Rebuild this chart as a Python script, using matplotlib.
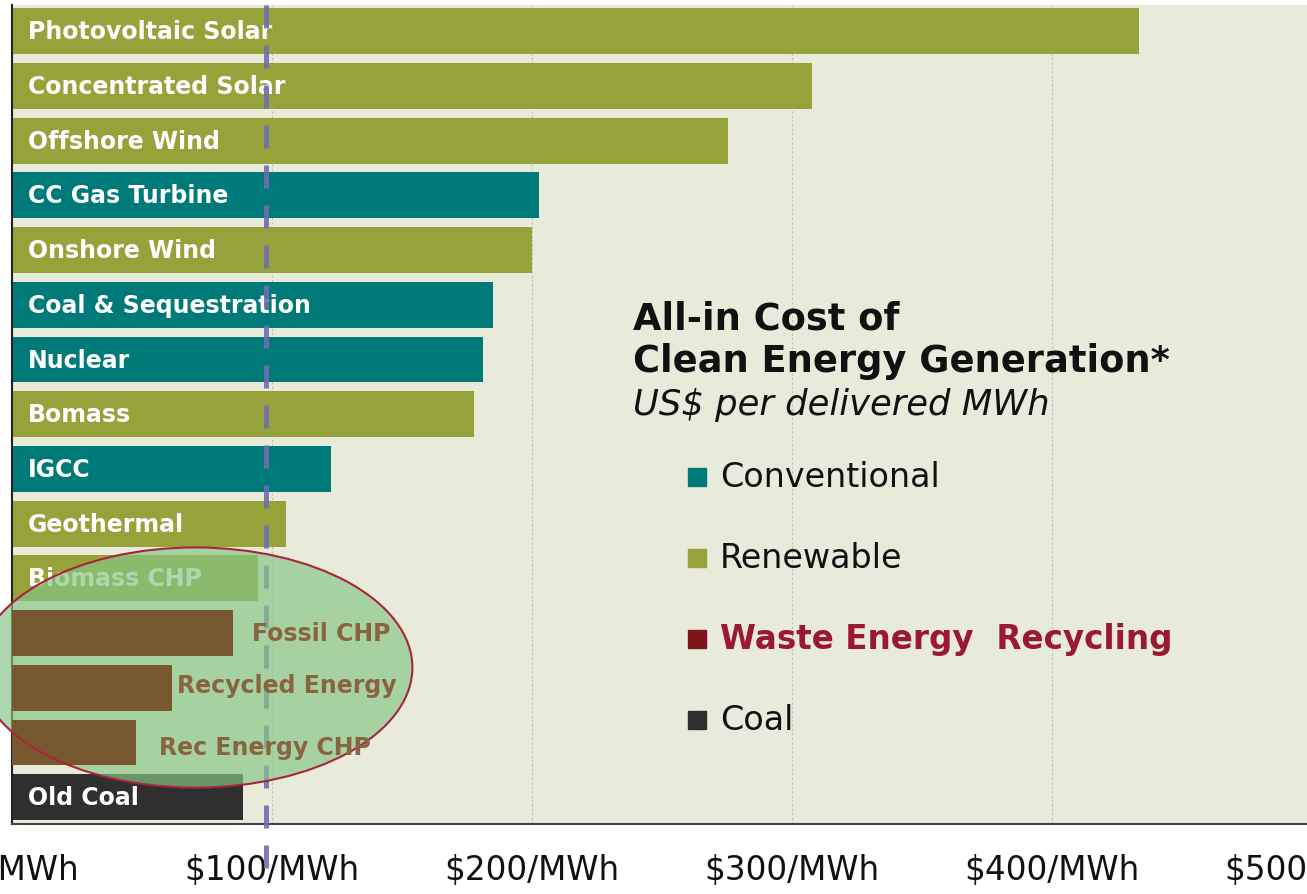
import matplotlib
matplotlib.use('Agg')
from matplotlib import pyplot as plt
from matplotlib.patches import Ellipse

# data, top to bottom
labels = ['Photovoltaic Solar', 'Concentrated Solar', 'Offshore Wind', 'CC Gas Turbine',
          'Onshore Wind', 'Coal & Sequestration', 'Nuclear', 'Bomass', 'IGCC',
          'Geothermal', 'Biomass CHP', 'Fossil CHP', 'Recycled Energy',
          'Rec Energy CHP', 'Old Coal']
costs = [433.5, 307.5, 275.5, 202.5, 200, 185, 181, 177.5, 122.5, 105.5,
         94.5, 85, 61.5, 47.5, 89]
kinds = ['ren', 'ren', 'ren', 'conv', 'ren', 'conv', 'conv', 'ren', 'conv', 'ren',
         'ren', 'waste', 'waste', 'waste', 'coal']
ticks = [0, 100, 200, 300, 400, 500]
tick_labels = ['$0/MWh', '$100/MWh', '$200/MWh', '$300/MWh', '$400/MWh', '$500/MWh']
benchmark = 97.7

legend_names = ['Conventional', 'Renewable', 'Waste Energy  Recycling', 'Coal']
legend_kinds = ['conv', 'ren', 'waste', 'coal']

colors = {'conv': '#007A78', 'ren': '#97A23B', 'waste': '#77582E', 'coal': '#2F2F2F'}
legend_colors = {'conv': '#007A78', 'ren': '#97A23B', 'waste': '#7E1518', 'coal': '#2F2F2F'}

W, H = 1307, 895
fig = plt.figure(figsize=(W / 100, H / 100), dpi=100)
ax = fig.add_axes([12 / W, 70 / H, 1300 / W, 819 / H])
ax.set_facecolor('#E9EBDA')

for i, (lab, c, k) in enumerate(zip(labels, costs, kinds)):
    z = 5 if k == 'waste' else 2
    ax.barh(i, c, height=0.84, color=colors[k], zorder=z)

ax.set_xlim(0, 500)
ax.set_ylim(len(labels) - 0.51, -0.48)
ax.set_yticks([])
ax.set_xticks(ticks)
ax.set_xticklabels(tick_labels)
ax.tick_params(axis='x', length=0, pad=21, labelsize=23.5, labelcolor='#111111')
ax.xaxis.grid(True, linestyle=(0, (2, 2)), color='#BDBDBD', lw=0.8)
ax.set_axisbelow(True)
for s in ['top', 'right']:
    ax.spines[s].set_visible(False)
ax.spines['left'].set_color('#222222')
ax.spines['left'].set_linewidth(1.5)
ax.spines['bottom'].set_color('#444444')
ax.spines['bottom'].set_linewidth(1.5)

# labels inside / beside bars
waste_offsets = {'Fossil CHP': (14, 0), 'Recycled Energy': (3.5, 2), 'Rec Energy CHP': (17, -3.5)}
for i, (lab, c, k) in enumerate(zip(labels, costs, kinds)):
    if k == 'waste':
        dx, dy = waste_offsets[lab]
        ax.annotate(lab, xy=(c, i), xytext=(dx, dy), textcoords='offset points',
                    ha='left', va='center', fontsize=17, weight='bold',
                    color='#8A6440', zorder=7)
    else:
        ax.annotate(lab, xy=(0, i), xytext=(11.5, 0), textcoords='offset points',
                    ha='left', va='center', fontsize=17, weight='bold',
                    color='white', zorder=3)

# benchmark dashed line
ax.plot([benchmark, benchmark], [1, -0.075], transform=ax.get_xaxis_transform(),
        clip_on=False, color='#706EB0', lw=3.6, dashes=(4.6, 3.4), alpha=0.9, zorder=3.5)

# highlight ellipse
ell = Ellipse((70.5, 11.63), 167, 4.39, facecolor='#86C686', alpha=0.68,
              edgecolor='none', zorder=4, clip_on=False)
ax.add_patch(ell)
ell2 = Ellipse((70.5, 11.63), 167, 4.39, facecolor='none', edgecolor='#A8243C',
               lw=1.5, zorder=6, clip_on=False)
ax.add_patch(ell2)


def px(x, yy):
    return x / W, 1 - yy / H


fig.text(*px(633, 329), 'All-in Cost of', fontsize=26.5, weight='bold', color='#111111')
fig.text(*px(633, 372), 'Clean Energy Generation*', fontsize=26.5, weight='bold', color='#111111')
fig.text(*px(633, 415), 'US$ per delivered MWh', fontsize=25.5, style='italic', color='#111111')

for j, (name, k) in enumerate(zip(legend_names, legend_kinds)):
    yc = 478 + j * 81
    fig.patches.append(plt.Rectangle(px(688, yc + 9), 18 / W, 18 / H,
                                     transform=fig.transFigure, color=legend_colors[k]))
    if k == 'waste':
        fig.text(*px(720, yc), name, fontsize=23.5, weight='bold', color='#9A1830', va='center')
    else:
        fig.text(*px(720, yc), name, fontsize=24, color='#111111', va='center')

fig.savefig('out.png', dpi=100)
